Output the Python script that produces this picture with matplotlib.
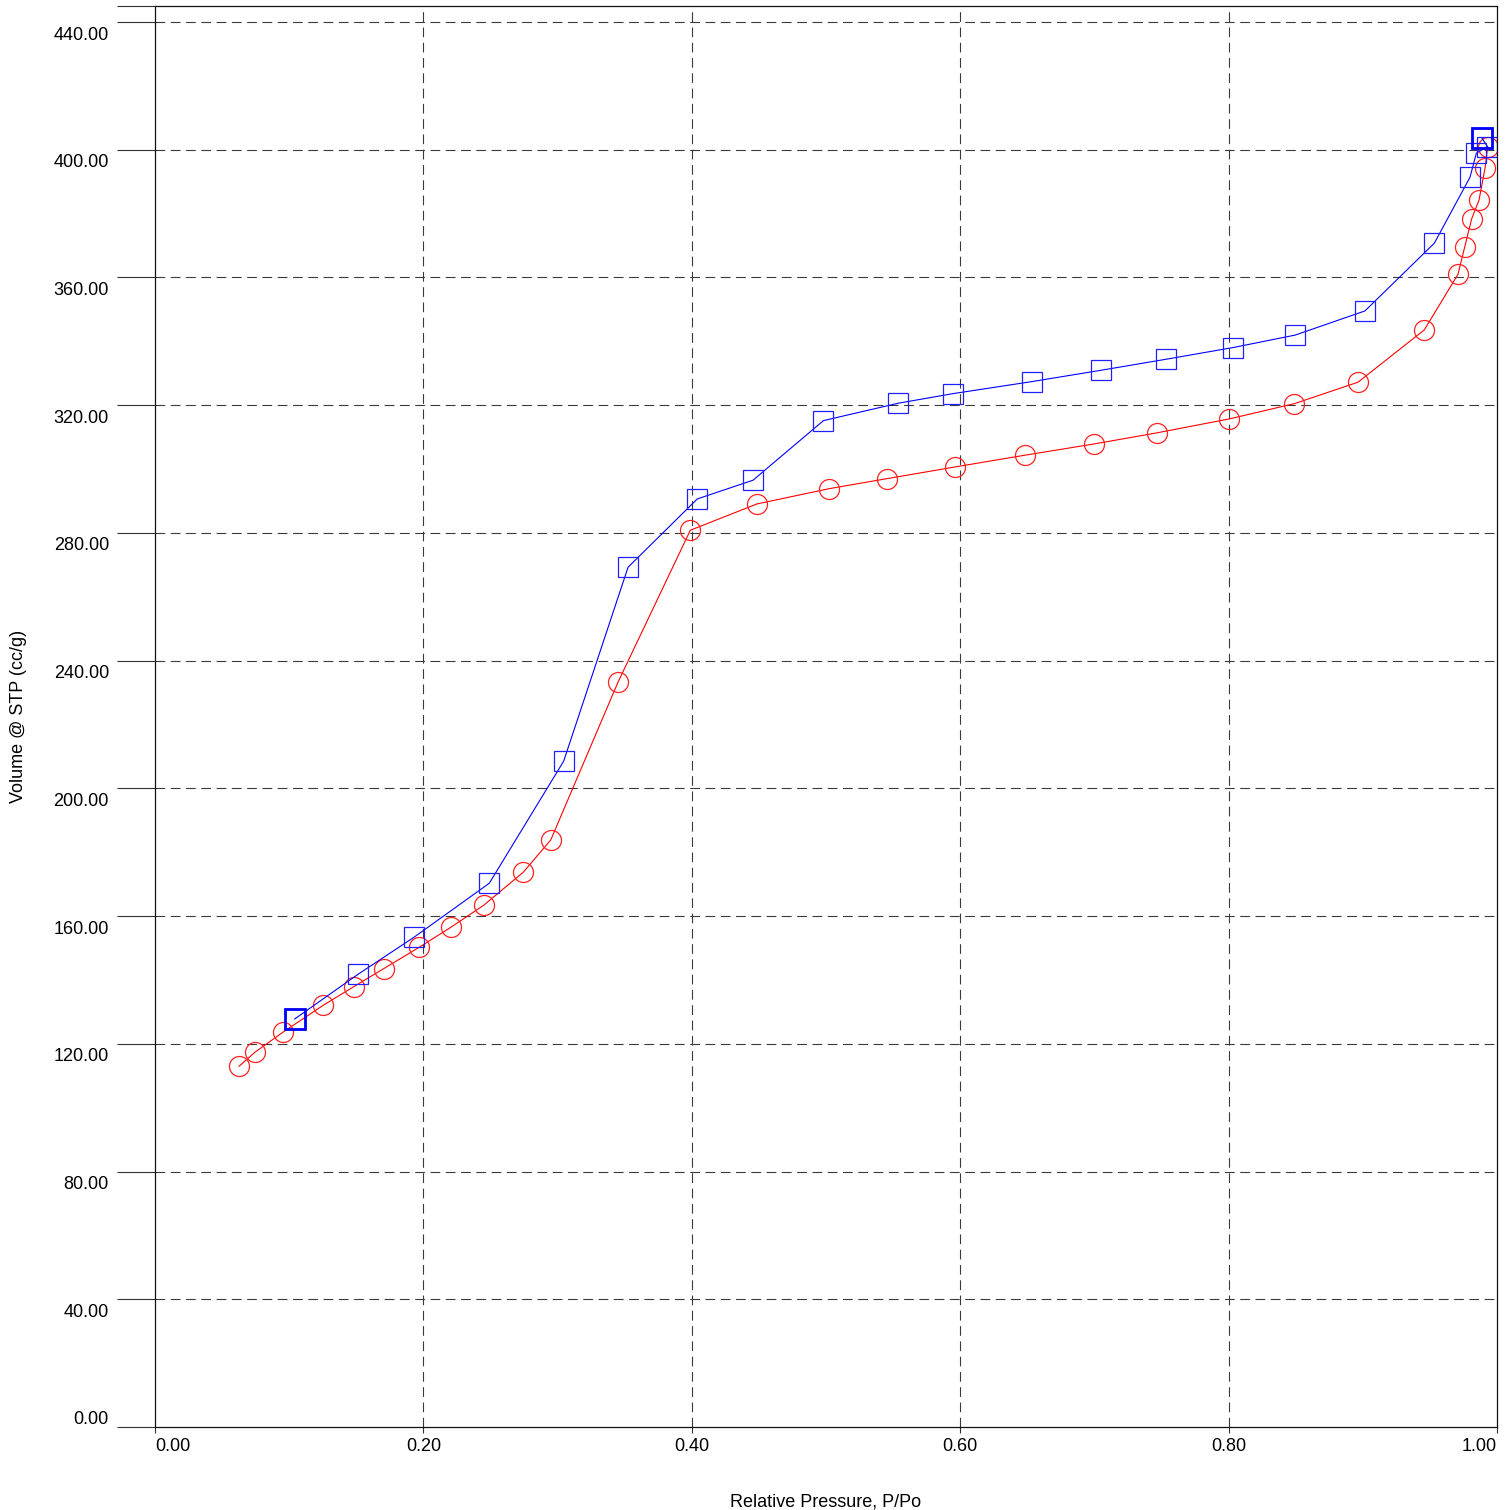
import matplotlib
matplotlib.use("Agg")
from matplotlib import pyplot as plt
import numpy as np

plt.rcParams['font.family'] = ['Liberation Sans', 'DejaVu Sans']
plt.rcParams['lines.scale_dashes'] = False

# adsorption (red circles)
ads_x = [0.0626, 0.0747, 0.0956, 0.1254, 0.1481, 0.1704, 0.1969, 0.2208, 0.2452,
         0.2744, 0.2949, 0.3450, 0.3989, 0.4486, 0.5025, 0.5455, 0.5963, 0.6481,
         0.6999, 0.7464, 0.8005, 0.8491, 0.8964, 0.9458, 0.9709, 0.9759, 0.9811,
         0.9866, 0.9911, 0.9931]
ads_y = [112.97, 117.44, 123.71, 132.07, 137.90, 143.53, 150.23, 156.59, 163.48,
         173.72, 183.84, 233.23, 280.83, 289.07, 293.86, 296.99, 300.66, 304.32,
         307.86, 311.31, 315.69, 320.48, 327.18, 343.56, 360.95, 369.46, 378.33,
         384.22, 394.24, 400.88]

# desorption (blue squares)
des_x = [0.9888, 0.9929, 0.9846, 0.9799, 0.9533, 0.9016, 0.8496, 0.8031, 0.7536,
         0.7051, 0.6533, 0.5946, 0.5539, 0.4981, 0.4456, 0.4041, 0.3525, 0.3045,
         0.2491, 0.1930, 0.1513, 0.1041]
des_y = [403.60, 400.97, 398.90, 391.39, 370.72, 349.51, 341.94, 338.02, 334.39,
         330.94, 327.37, 323.61, 320.61, 315.16, 296.49, 290.64, 269.24, 208.49,
         170.28, 153.37, 141.78, 127.78]

x_ticks = [0.0, 0.2, 0.4, 0.6, 0.8, 1.0]
y_ticks = [0, 40, 80, 120, 160, 200, 240, 280, 320, 360, 400, 440]

fig = plt.figure(figsize=(15.11, 15.10), dpi=100)
ax = fig.add_axes([155/1511, 83/1510, 1342/1511, 1421/1510])

ax.plot(ads_x, ads_y, color='#ff0000', lw=0.8, marker='o', ms=14.4,
        mfc='none', mec='#ff2020', mew=0.9)
ax.plot(des_x, des_y, color='#0000ff', lw=0.8, marker='s', ms=14.0,
        mfc='none', mec='#2020ff', mew=0.9)
# end points of desorption drawn heavier
ax.plot([des_x[0], des_x[-1]], [des_y[0], des_y[-1]], ls='none', marker='s',
        ms=14.0, mfc='none', mec='#0000ff', mew=2.0)

ax.set_xlim(0, 1)
ax.set_ylim(0, 445)

ax.set_xticks(x_ticks)
labs = ax.set_xticklabels(['%.2f' % v for v in x_ticks], fontsize=13)
labs[0].set_horizontalalignment('left')
labs[-1].set_horizontalalignment('right')
ax.tick_params(axis='x', length=4.3, width=0.8, pad=3.5, color='#333333')

ax.set_yticks(y_ticks + [445])
ax.set_yticklabels([])
ax.tick_params(axis='y', length=27.4, width=0.8, color='#333333')

# y tick labels hang just below their tick, the zero label sits above the axis
for v in y_ticks:
    ty = 2.4 if v == 0 else v - 4.1
    ax.text(-0.0343, ty, '%.2f' % v, fontsize=13,
            ha='right', va='center', transform=ax.get_yaxis_transform())

gl = dict(color='#3a3a3a', lw=0.8, ls=(0, (7, 4)))
for v in x_ticks[1:-1]:
    ax.axvline(v, zorder=0.5, **gl)
for v in y_ticks[1:]:
    ax.axhline(v, zorder=0.5, **gl)

for s in ax.spines.values():
    s.set_linewidth(0.9)
    s.set_color('#111111')

fig.text(19/1511, 1 - 716/1510, 'Volume @ STP (cc/g)', fontsize=13,
         rotation=90, ha='center', va='center')
fig.text(826/1511, 1 - 1502/1510, 'Relative Pressure, P/Po', fontsize=13,
         ha='center', va='center')

fig.savefig('out.png', dpi=100)
